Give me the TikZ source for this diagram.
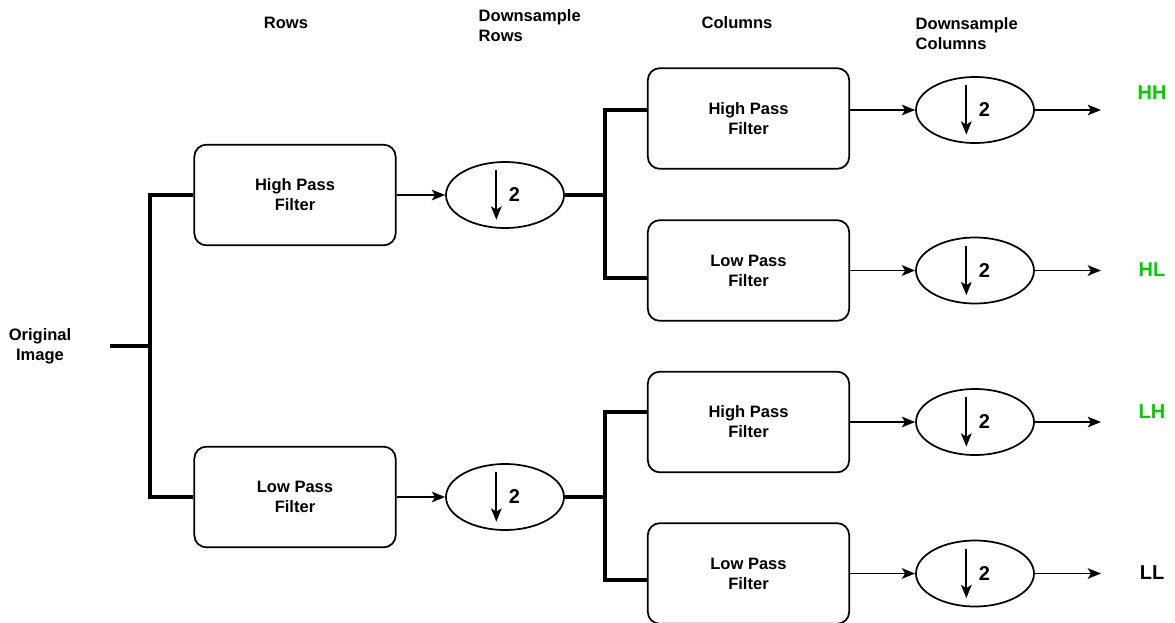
\documentclass[tikz,border=0pt]{standalone}
\usepackage{fontspec}
\setmainfont{Liberation Sans}
\usetikzlibrary{shapes.geometric,arrows.meta}
\definecolor{bandgreen}{RGB}{0,204,0}

\begin{document}
\begin{tikzpicture}[x=0.75pt,y=-0.75pt]
		\tikzset{filter/.style = {shape=rectangle, draw, rounded corners=9pt, line width=1.3pt, minimum width=151pt, minimum height=75.5pt, align=center, font=\bfseries\fontsize{12.4}{15}\selectfont},
			down/.style = {shape=ellipse, draw, line width=1.3pt, minimum width=88.5pt, minimum height=49.5pt, inner sep=0pt},
			head/.style = {align=left, font=\bfseries\fontsize{12.4}{15}\selectfont},
			band/.style = {font=\bfseries\fontsize{15}{17}\selectfont},
			tree/.style = {line width=2.7pt, line join=miter},
			flow/.style = {line width=1.3pt, -{Stealth[length=10pt,width=8pt,inset=2.5pt]}}}

		\useasboundingbox (0,0) rectangle (1175,622);

		\node[head] (t_rows) at (286,23) {Rows};
		\node[head, anchor=west] (t_drows) at (474,25.5) {Downsample\\Rows};
		\node[head] (t_cols) at (737,23) {Columns};
		\node[head, anchor=west] (t_dcols) at (911,33.5) {Downsample\\Columns};

		\node[head, align=center] (orig) at (40,346) {Original\\Image};
		\coordinate (in) at (110,346);
		\coordinate (j0) at (150,346);

		\node[filter] (hr) at (295,195) {High Pass\\Filter};
		\node[filter] (lr) at (295,497) {Low Pass\\Filter};
		\node[down] (dr1) at (505,195) {};
		\node[down] (dr2) at (505,497) {};
		\coordinate (j1) at (605,195);
		\coordinate (j2) at (605,497);

		\node[filter] (hc1) at (748.5,118.5) {High Pass\\Filter};
		\node[filter] (lc1) at (748.5,270.5) {Low Pass\\Filter};
		\node[filter] (hc2) at (748.5,422) {High Pass\\Filter};
		\node[filter] (lc2) at (748.5,573.5) {Low Pass\\Filter};

		\node[down] (dc1) at (975,110) {};
		\node[down] (dc2) at (975,270.5) {};
		\node[down] (dc3) at (975,422) {};
		\node[down] (dc4) at (975,573.5) {};

		\coordinate (o1) at (1101,110);
		\coordinate (o2) at (1101,270.5);
		\coordinate (o3) at (1101,422);
		\coordinate (o4) at (1101,573.5);
		\node[band, text=bandgreen] (HH) at (1152,93) {HH};
		\node[band, text=bandgreen] (HL) at (1152,270) {HL};
		\node[band, text=bandgreen] (LH) at (1152,412) {LH};
		\node[band] (LL) at (1152,573) {LL};

		\foreach \e in {dr1,dr2,dc1,dc2,dc3,dc4} {
			\draw[flow] ([xshift=-6.5pt,yshift=18.75pt]\e.center) -- ([xshift=-6.5pt,yshift=-18.5pt]\e.center);
			\node[band] at ([xshift=7pt]\e.center) {2};
		}

		\draw[tree] (in)--(j0);
		\draw[tree] (hr.west) -| (j0) |- (lr.west);

		\draw[flow] (hr)--(dr1);
		\draw[flow] (lr)--(dr2);

		\draw[tree] (dr1)--(j1);
		\draw[tree] (hc1.west |- dc1) -| (j1) |- ([yshift=-5.6pt]lc1.west);
		\draw[tree] (dr2)--(j2);
		\draw[tree] ([yshift=7.5pt]hc2.west) -| (j2) |- ([yshift=-4.9pt]lc2.west);

		\draw[flow] (hc1.east |- dc1)--(dc1);
		\draw[flow] (lc1)--(dc2);
		\draw[flow] (hc2)--(dc3);
		\draw[flow] (lc2)--(dc4);

		\draw[flow] (dc1)--(o1);
		\draw[flow] (dc2)--(o2);
		\draw[flow] (dc3)--(o3);
		\draw[flow] (dc4)--(o4);

	\end{tikzpicture}
\end{document}
